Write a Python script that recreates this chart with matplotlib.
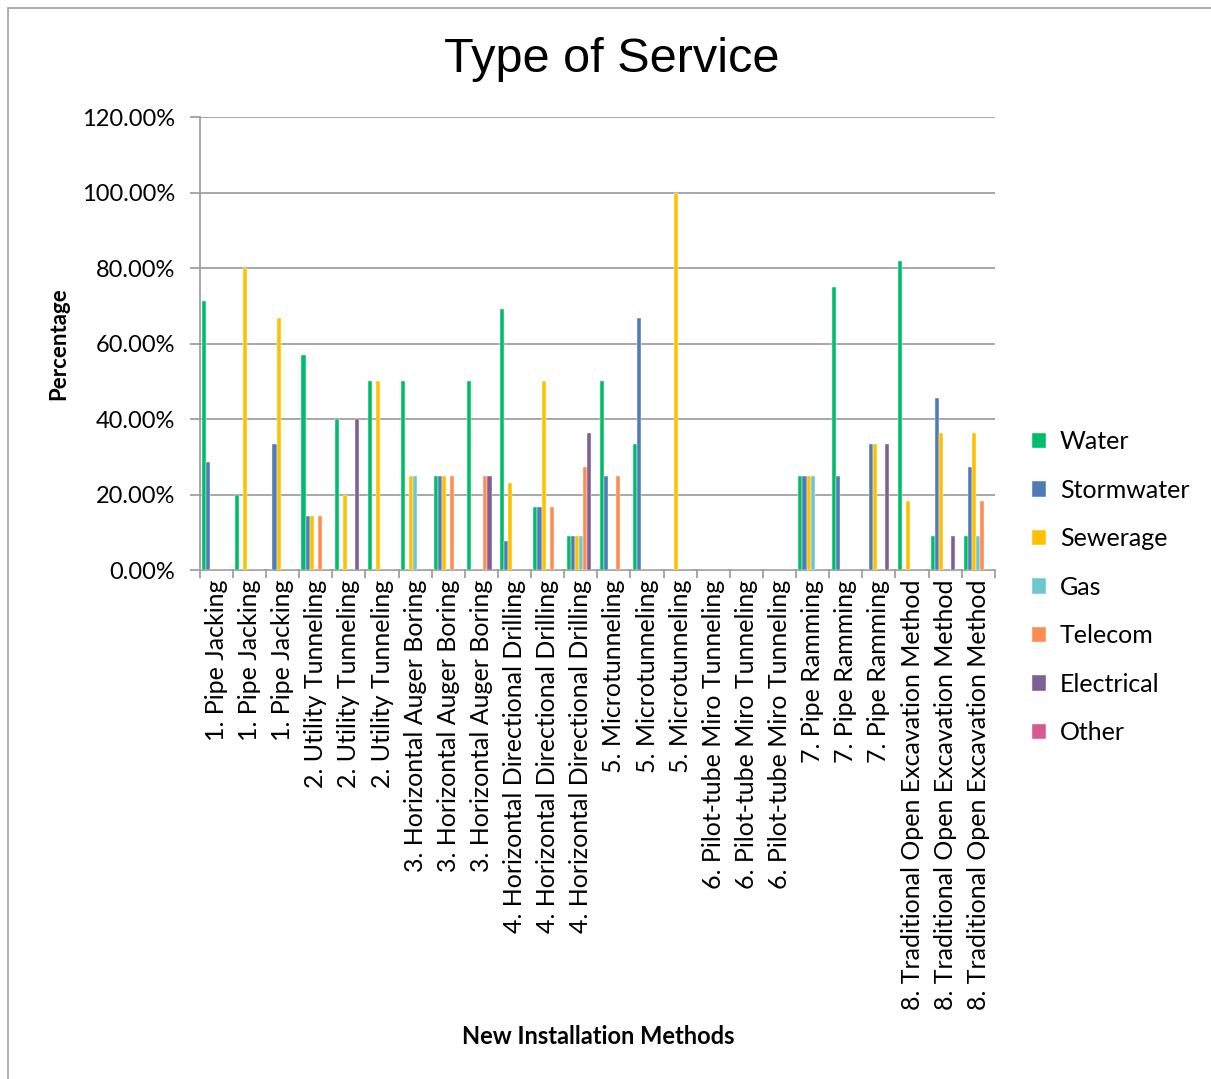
import numpy as np
import matplotlib.pyplot as plt
from matplotlib.patches import Rectangle
from matplotlib.ticker import FuncFormatter

# categories along the x axis
methods = [
    '1. Pipe Jacking', '1. Pipe Jacking', '1. Pipe Jacking',
    '2. Utility Tunneling', '2. Utility Tunneling', '2. Utility Tunneling',
    '3. Horizontal Auger Boring', '3. Horizontal Auger Boring', '3. Horizontal Auger Boring',
    '4. Horizontal Directional Drilling', '4. Horizontal Directional Drilling',
    '4. Horizontal Directional Drilling',
    '5. Microtunneling', '5. Microtunneling', '5. Microtunneling',
    '6. Pilot-tube Miro Tunneling', '6. Pilot-tube Miro Tunneling', '6. Pilot-tube Miro Tunneling',
    '7. Pipe Ramming', '7. Pipe Ramming', '7. Pipe Ramming',
    '8. Traditional Open Excavation Method', '8. Traditional Open Excavation Method',
    '8. Traditional Open Excavation Method',
]

services = ['Water', 'Stormwater', 'Sewerage', 'Gas', 'Telecom', 'Electrical', 'Other']

# percentages per service (one value per category)
water = [71.4, 20, 0, 57.1, 40, 50, 50, 25, 50, 69.2, 16.7, 9.1,
         50, 33.3, 0, 0, 0, 0, 25, 75, 0, 81.8, 9.1, 9.1]
stormwater = [28.6, 0, 33.3, 14.3, 0, 0, 0, 25, 0, 7.7, 16.7, 9.1,
              25, 66.7, 0, 0, 0, 0, 25, 25, 33.3, 0, 45.5, 27.3]
sewerage = [0, 80, 66.7, 14.3, 20, 50, 25, 25, 0, 23.1, 50, 9.1,
            0, 0, 100, 0, 0, 0, 25, 0, 33.3, 18.2, 36.4, 36.4]
gas = [0, 0, 0, 0, 0, 0, 25, 0, 0, 0, 0, 9.1,
       0, 0, 0, 0, 0, 0, 25, 0, 0, 0, 0, 9.1]
telecom = [0, 0, 0, 14.3, 0, 0, 0, 25, 25, 0, 16.7, 27.3,
           25, 0, 0, 0, 0, 0, 0, 0, 0, 0, 0, 18.2]
electrical = [0, 0, 0, 0, 40, 0, 0, 0, 25, 0, 0, 36.4,
              0, 0, 0, 0, 0, 0, 0, 0, 33.3, 0, 9.1, 0]
other = [0] * 24

series = [water, stormwater, sewerage, gas, telecom, electrical, other]
colors = ['#00BD6A', '#4F7BB8', '#FFC000', '#6CC8CC', '#FF8C50', '#7F5F94', '#D65A90']

fig = plt.figure(figsize=(12.11, 10.79), dpi=100)
ax = fig.add_axes([0.165, 0.4717, 0.6565, 0.4198])

x = np.arange(len(methods))
w = 0.123
for j, (vals, c, name) in enumerate(zip(series, colors, services)):
    ax.bar(x + (j - 3) * w, vals, width=w, color=c, label=name,
           edgecolor='white', linewidth=0.3, zorder=3)

ax.set_xlim(-0.5, len(methods) - 0.5)
ax.set_ylim(0, 120)
ax.set_yticks(np.arange(0, 121, 20))
ax.yaxis.set_major_formatter(FuncFormatter(lambda v, p: f'{v:.2f}%'))
ax.grid(axis='y', color='#A0A0A0', linewidth=1.3, zorder=0)

ax.set_xticks(x)
ax.set_xticklabels(methods, rotation=90, fontsize=18, fontname='Lato')
ax.tick_params(axis='x', length=0, pad=7)
ax.set_xticks(np.arange(-0.5, len(methods)), minor=True)
ax.tick_params(axis='x', which='minor', length=6, color='#A0A0A0', width=1.3)
ax.tick_params(axis='y', labelsize=17, length=7, color='#A0A0A0', width=1.3, pad=11)
for lab in ax.get_yticklabels():
    lab.set_fontname('Lato')

for s in ['top', 'right']:
    ax.spines[s].set_visible(False)
for s in ['left', 'bottom']:
    ax.spines[s].set_color('#A0A0A0')
    ax.spines[s].set_linewidth(1.3)

ax.set_ylabel('Percentage', fontsize=16, fontweight='bold', fontname='Lato', labelpad=9)
fig.text(0.494, 0.039, 'New Installation Methods', fontsize=17, fontweight='bold',
         fontname='Lato', ha='center', va='center')
fig.text(0.505, 0.945, 'Type of Service', fontsize=35, fontname='Liberation Sans',
         ha='center', va='center')

ax.legend(loc='upper left', bbox_to_anchor=(1.019, 0.358), frameon=False,
          prop={'family': 'Lato', 'size': 18}, handlelength=0.55, handleheight=0.55,
          labelspacing=1.02, handletextpad=0.55)

# chart border
fig.patches.append(Rectangle((8 / 1211, -0.05), 1.2, 1.05 - 8 / 1079,
                             transform=fig.transFigure, fill=False,
                             edgecolor='#A0A0A0', linewidth=1.2))

fig.savefig('out.png', dpi=100)
